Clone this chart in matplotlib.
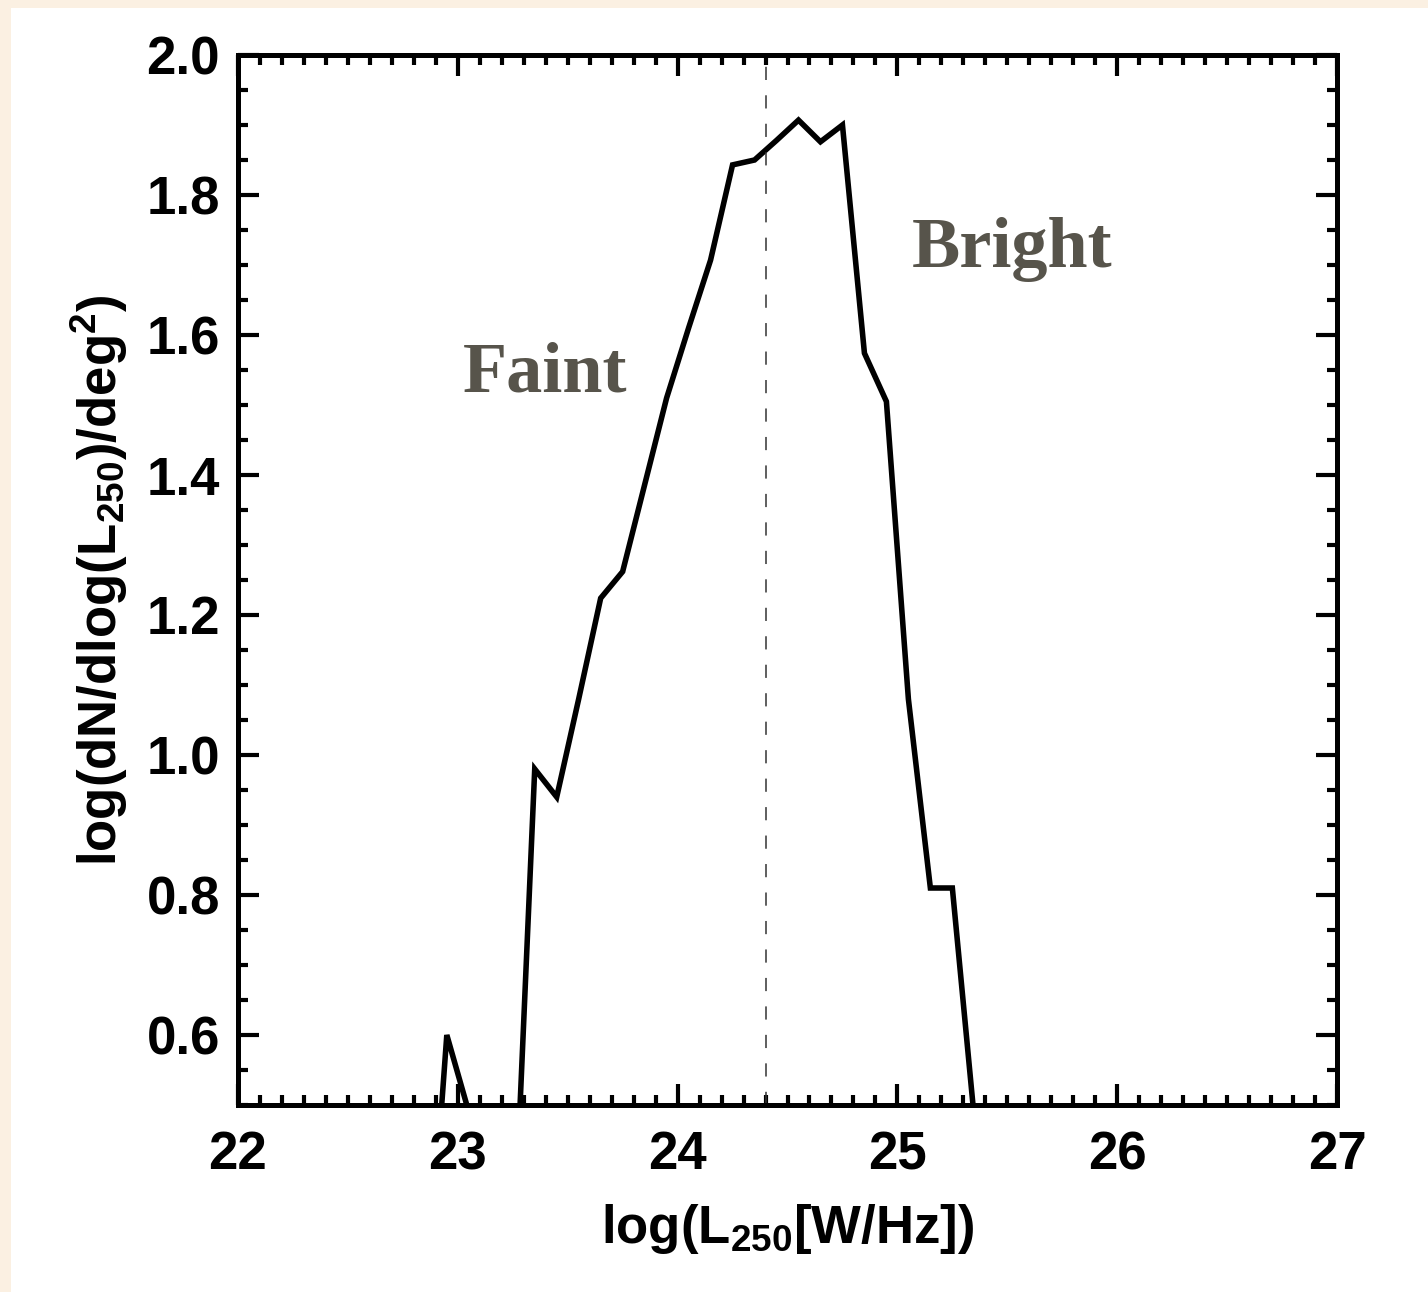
import matplotlib
matplotlib.use("Agg")
import matplotlib.pyplot as plt
from matplotlib.patches import Rectangle
from matplotlib.ticker import MultipleLocator

# luminosity function (bin centres)
logL = [22.85, 22.95, 23.05, 23.15, 23.25, 23.35, 23.45, 23.55, 23.65, 23.75,
        23.85, 23.95, 24.05, 24.15, 24.25, 24.35, 24.45, 24.55, 24.65, 24.75,
        24.85, 24.95, 25.05, 25.15, 25.25, 25.35, 25.45]
logN = [0.17, 0.60, 0.49, 0.30, 0.26, 0.98, 0.94, 1.08, 1.224, 1.262,
        1.386, 1.51, 1.61, 1.707, 1.843, 1.85, 1.878, 1.907, 1.876, 1.90,
        1.574, 1.505, 1.08, 0.81, 0.81, 0.48, 0.20]
split = 24.4
xticks = [22, 23, 24, 25, 26, 27]
yticks = [0.6, 0.8, 1.0, 1.2, 1.4, 1.6, 1.8, 2.0]

plt.rcParams['font.family'] = ['Liberation Sans', 'DejaVu Sans']
plt.rcParams['font.weight'] = 'bold'
plt.rcParams['mathtext.fontset'] = 'custom'
plt.rcParams['mathtext.rm'] = 'Liberation Sans:bold'
plt.rcParams['mathtext.it'] = 'Liberation Sans:bold'
plt.rcParams['mathtext.bf'] = 'Liberation Sans:bold'
plt.rcParams['lines.scale_dashes'] = False

fig = plt.figure(figsize=(14.28, 12.92), dpi=100, facecolor='white')
# peach strips at top and left edge
peach = '#fbf0e2'
fig.patches.append(Rectangle((0, 0), 11 / 1428, 1, transform=fig.transFigure,
                             facecolor=peach, edgecolor='none', zorder=-5))
fig.patches.append(Rectangle((0, 1 - 8 / 1292), 1, 8 / 1292, transform=fig.transFigure,
                             facecolor=peach, edgecolor='none', zorder=-5))

ax = fig.add_axes([238 / 1428, 1 - 1105 / 1292, (1337 - 238) / 1428, (1105 - 55) / 1292])
ax.plot(logL, logN, color='black', lw=4.0, solid_joinstyle='miter')
ax.axvline(split, color='#333333', lw=1.1, dashes=(9.5, 11))

ax.set_xlim(22, 27)
ax.set_ylim(0.5, 2.0)
ax.set_xticks(xticks)
ax.set_yticks(yticks)
ax.set_xticklabels([str(v) for v in xticks])
ax.set_yticklabels(['%.1f' % v for v in yticks])
ax.xaxis.set_minor_locator(MultipleLocator(0.1))
ax.yaxis.set_minor_locator(MultipleLocator(0.05))
ax.tick_params(which='both', direction='in', top=True, right=True, width=3, labelsize=38)
ax.tick_params(which='major', length=15)
ax.tick_params(which='minor', length=7)
ax.tick_params(axis='x', pad=18)
ax.tick_params(axis='y', pad=13)
for s in ax.spines.values():
    s.set_linewidth(3.6)

ax.set_xlabel(r'$\mathrm{log(L_{250}[W/Hz])}$', fontsize=38, labelpad=16)
ax.set_ylabel(r'$\mathrm{log(dN/dlog(L_{250})/deg^{2})}$', fontsize=38, labelpad=12)

ax.text(23.024, 1.519, 'Faint', family='Liberation Serif', fontweight='bold',
        fontsize=52, color='#57544b', ha='left', va='baseline')
ax.text(25.066, 1.697, 'Bright', family='Liberation Serif', fontweight='bold',
        fontsize=52, color='#57544b', ha='left', va='baseline')

fig.savefig('out.png', dpi=100, facecolor=fig.get_facecolor())
